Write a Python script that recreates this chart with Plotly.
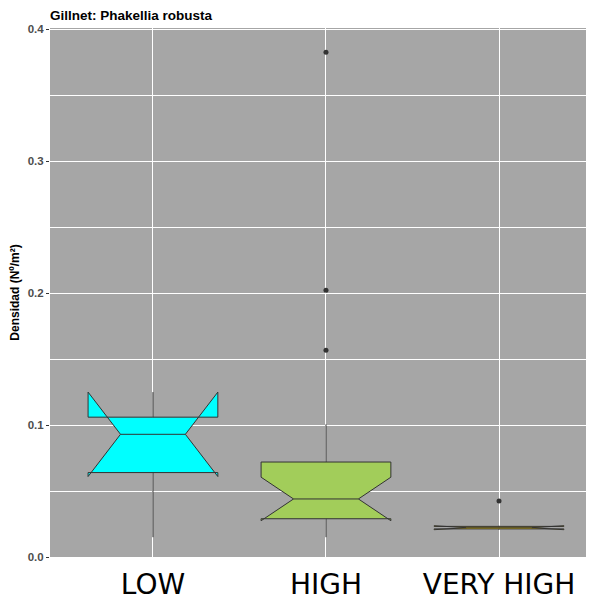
import plotly.graph_objects as go

categories = ["LOW", "HIGH", "VERY HIGH"]
positions = [0, 1, 2]
q1 = [0.064, 0.029, 0.0213]
median = [0.093, 0.044, 0.0222]
q3 = [0.106, 0.072, 0.0232]
lowerfence = [0.015, 0.015, 0.0213]
upperfence = [0.109, 0.1005, 0.0232]
notchspan = [0.032, 0.0165, 0.0015]
fills = ["#00FFFF", "#A2CD5A", "#FFD700"]

outlier_x = [1, 1, 1, 2]
outlier_y = [0.3826, 0.2023, 0.1568, 0.0424]

# page body has an 8px margin; size the figure so the plot lands where the reference has it
W, H = 586, 593

fig = go.Figure()
for i in range(len(categories)):
    fig.add_trace(go.Box(
        x=[positions[i]], q1=[q1[i]], median=[median[i]], q3=[q3[i]],
        lowerfence=[lowerfence[i]], upperfence=[upperfence[i]],
        notchspan=[notchspan[i]], notched=True, notchwidth=0.25,
        width=0.75, whiskerwidth=0, fillcolor=fills[i],
        line=dict(color="#333333", width=1), boxpoints=False,
        showlegend=False, hoverinfo="skip"))

fig.add_trace(go.Scatter(x=outlier_x, y=outlier_y, mode="markers",
                         marker=dict(color="#333333", size=5),
                         showlegend=False, hoverinfo="skip"))

fig.update_layout(
    width=W, height=H,
    margin=dict(l=42, r=0, t=20, b=44),
    paper_bgcolor="white", plot_bgcolor="#A6A6A6",
    title=dict(text="Gillnet: Phakellia robusta", x=42/W, xanchor="left",
               y=1 - 3/H, yanchor="top", pad=dict(t=0, b=0),
               font=dict(family="Liberation Sans, Arial", size=13.5, color="black", weight="bold")),
    xaxis=dict(range=[-0.595, 2.549], tickvals=positions, ticktext=categories,
               showgrid=True, gridcolor="white", gridwidth=1.2, zeroline=False,
               ticks="", automargin=False, ticklabelstandoff=8,
               tickfont=dict(family="DejaVu Sans", size=28, color="black"),
               showline=False),
    yaxis=dict(range=[0, 0.401], dtick=0.1, tickformat=".1f",
               showgrid=True, gridcolor="white", gridwidth=1.2, zeroline=False,
               ticks="outside", ticklen=3, tickcolor="#333333", automargin=False,
               tickfont=dict(family="Liberation Sans, Arial", size=11.5, color="#4D4D4D", weight="bold"),
               minor=dict(dtick=0.05, showgrid=True, gridcolor="white", gridwidth=1),
               title=dict(text="Densidad (Nº/m²)", standoff=7,
                          font=dict(family="Liberation Sans, Arial", size=12, color="black", weight="bold"))),
)

fig.write_html("out.html")
